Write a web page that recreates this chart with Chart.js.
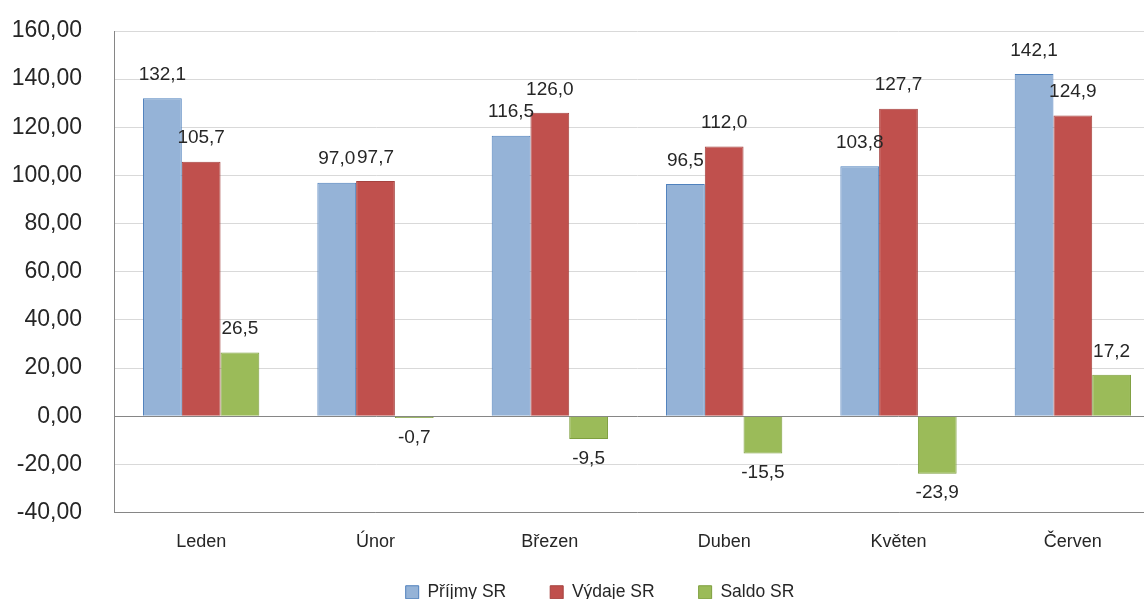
<!DOCTYPE html>
<html><head><meta charset="utf-8">
<script src="https://cdn.jsdelivr.net/npm/chart.js@4/dist/chart.umd.min.js"></script>
<style>
html,body{margin:0;padding:0;overflow:hidden;background:#fff;width:1144px;height:599px;}
#wrap{position:absolute;left:0;top:0;width:1160px;height:624px;}
</style></head><body>
<div id="wrap"><canvas id="c" width="1160" height="624"></canvas></div>
<script>
const categories = ['Leden','Únor','Březen','Duben','Květen','Červen'];
const prijmy = [132.1, 97.0, 116.5, 96.5, 103.8, 142.1];
const vydaje = [105.7, 97.7, 126.0, 112.0, 127.7, 124.9];
const saldo = [26.5, -0.7, -9.5, -15.5, -23.9, 17.2];
const seriesNames = ['Příjmy SR','Výdaje SR','Saldo SR'];
const yMin = -40, yMax = 160, yStep = 20;

const FONT = "'Liberation Sans', Arial, sans-serif";
const TXT = '#262626';
const fmt = (v, d) => v.toFixed(d).replace('.', ',');

const labelPlugin = {
  id: 'valLabels',
  afterDatasetsDraw(chart) {
    const ctx = chart.ctx;
    ctx.save();
    ctx.font = '19px ' + FONT;
    ctx.fillStyle = TXT;
    ctx.textAlign = 'center';
    chart.data.datasets.forEach((ds, i) => {
      const meta = chart.getDatasetMeta(i);
      meta.data.forEach((el, j) => {
        const v = ds.data[j];
        const t = fmt(v, 1);
        if (v >= 0) { ctx.textBaseline = 'bottom'; ctx.fillText(t, el.x, el.y - 14); }
        else { ctx.textBaseline = 'top'; ctx.fillText(t, el.x, el.y + 10); }
      });
    });
    ctx.restore();
  }
};

const legendShift = {
  id: 'legendShift',
  afterLayout(chart) {
    const l = chart.legend;
    if (l) { l.top -= 13; l.bottom -= 13; l.left += 20; l.right += 20; }
  }
};

new Chart(document.getElementById('c'), {
  type: 'bar',
  data: {
    labels: categories,
    datasets: [
      {label: seriesNames[0], data: prijmy, backgroundColor: '#95B3D7', borderColor: '#4F81BD', borderWidth: 1},
      {label: seriesNames[1], data: vydaje, backgroundColor: '#C0504D', borderColor: '#A5423F', borderWidth: 1},
      {label: seriesNames[2], data: saldo, backgroundColor: '#9BBB59', borderColor: '#7E9F3E', borderWidth: 1}
    ]
  },
  options: {
    responsive: false,
    animation: false,
    devicePixelRatio: 1,
    layout: {padding: {top: 31, left: 0, right: 0, bottom: 0}},
    datasets: {bar: {categoryPercentage: 0.667, barPercentage: 1.0}},
    plugins: {
      legend: {
        position: 'bottom',
        labels: {font: {family: FONT, size: 17.5}, color: TXT, boxWidth: 13, boxHeight: 13, padding: 44}
      },
      tooltip: {enabled: false}
    },
    scales: {
      x: {
        grid: {display: false, drawTicks: false},
        border: {color: '#868686'},
        ticks: {font: {family: FONT, size: 18}, color: TXT, padding: 19},
        afterFit(s) { s.height = 40; }
      },
      y: {
        min: yMin, max: yMax,
        ticks: {stepSize: yStep, font: {family: FONT, size: 23}, color: TXT, padding: 32,
          callback: v => fmt(v, 2)},
        grid: {color: ctx => ctx.tick && ctx.tick.value === 0 ? '#868686' : '#D9D9D9', drawTicks: false},
        border: {color: '#868686'},
        afterFit(s) { s.width = 114; s.paddingTop = 0; s.paddingBottom = 0; }
      }
    }
  },
  plugins: [labelPlugin, legendShift]
});
</script>
</body></html>
